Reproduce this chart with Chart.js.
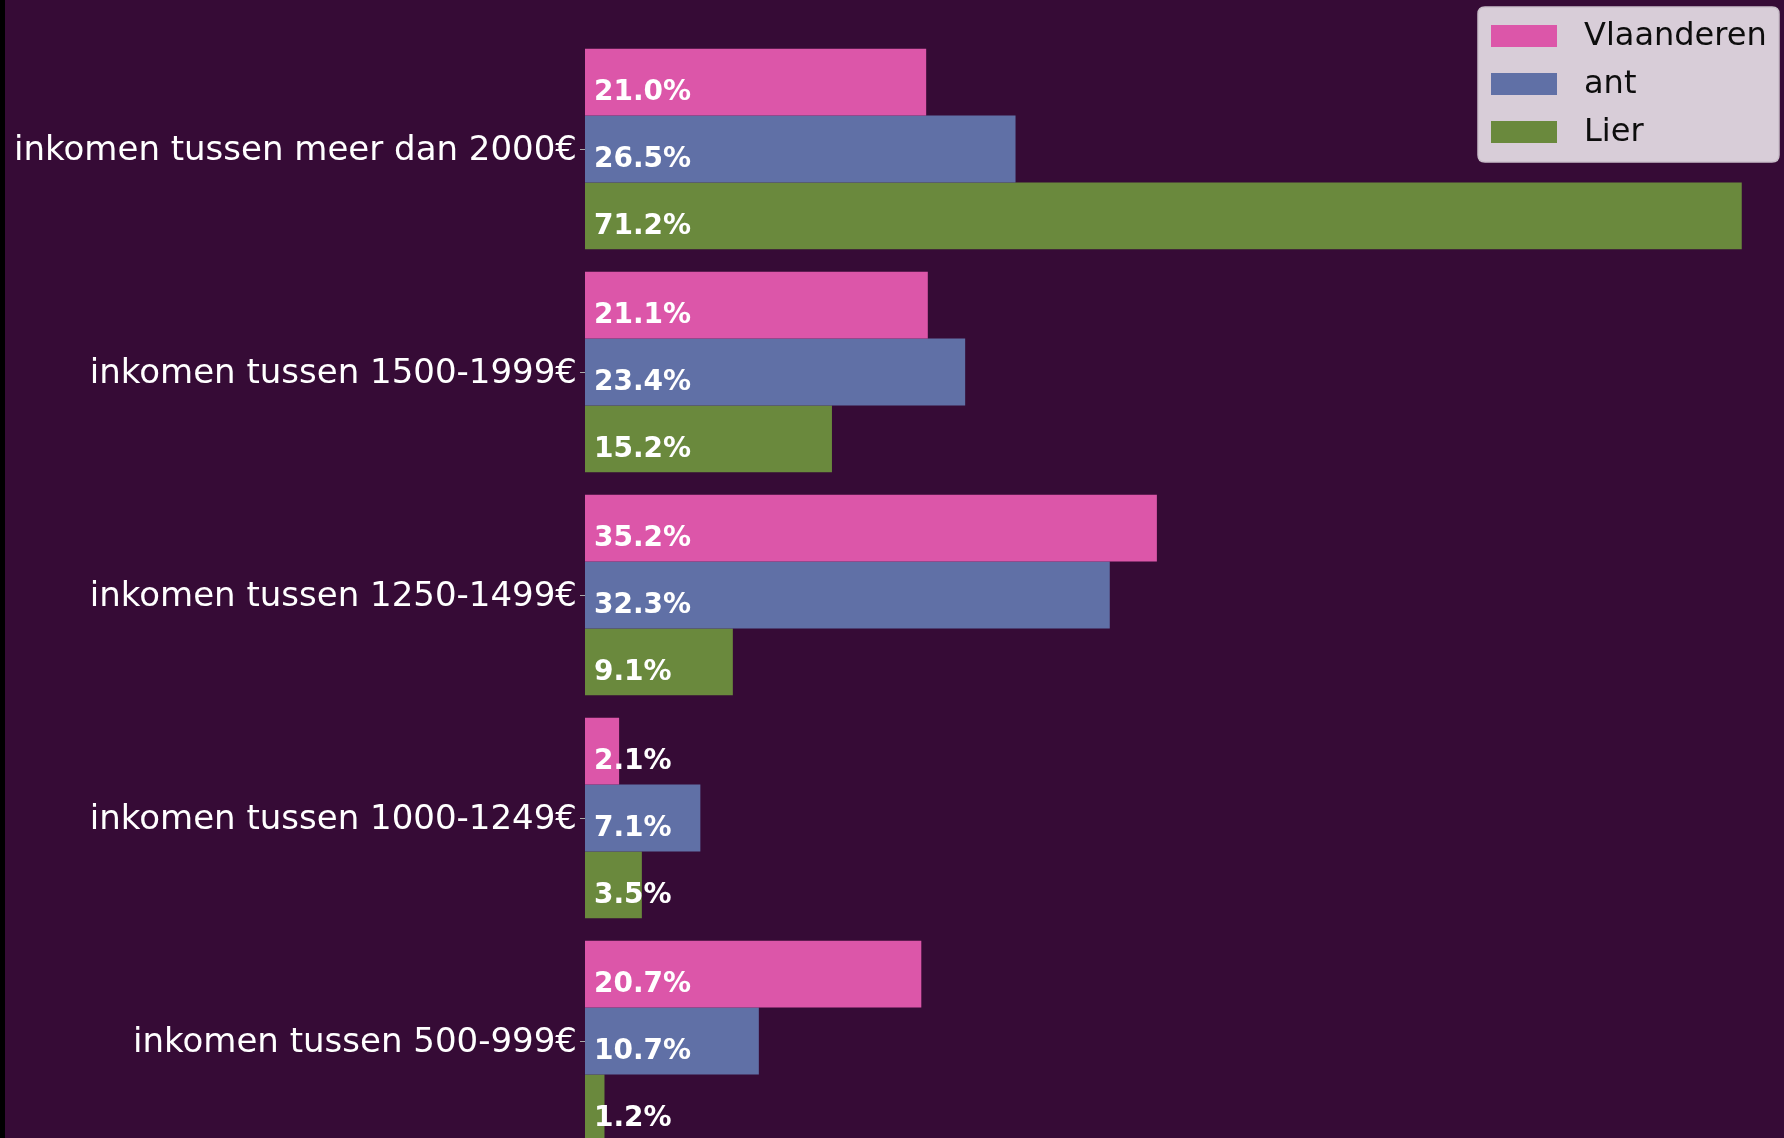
<!DOCTYPE html>
<html>
<head>
<meta charset="utf-8">
<script src="https://cdn.jsdelivr.net/npm/chart.js@4.4.1/dist/chart.umd.min.js"></script>
<style>
  html, body { margin: 0; padding: 0; background: #360b36; overflow: hidden; }
  #wrap { position: absolute; left: 0; top: 0; width: 1784px; height: 1180px; }
  canvas { display: block; }
</style>
</head>
<body>
<div id="wrap"><canvas id="c" width="1784" height="1180"></canvas></div>
<script>
const categories = [
  "inkomen tussen meer dan 2000€",
  "inkomen tussen 1500-1999€",
  "inkomen tussen 1250-1499€",
  "inkomen tussen 1000-1249€",
  "inkomen tussen 500-999€"
];
const seriesNames = ["Vlaanderen", "ant", "Lier"];
const vlaanderen = [21.0, 21.1, 35.2, 2.1, 20.7];
const ant = [26.5, 23.4, 32.3, 7.1, 10.7];
const lier = [71.2, 15.2, 9.1, 3.5, 1.2];
const colors = ["#dc56a9", "#6070a6", "#6a893d"];

const BG = "#360b36";

const bgPlugin = {
  id: "bg",
  beforeDraw(chart) {
    const ctx = chart.ctx;
    ctx.save();
    ctx.fillStyle = BG;
    ctx.fillRect(0, 0, chart.width, chart.height);
    ctx.fillStyle = "#000000";
    ctx.fillRect(0, 0, 5, chart.height);
    ctx.restore();
  }
};

const valueLabels = {
  id: "valueLabels",
  afterDatasetsDraw(chart) {
    const ctx = chart.ctx;
    ctx.save();
    ctx.font = "bold 28px 'DejaVu Sans'";
    ctx.fillStyle = "#ffffff";
    ctx.textAlign = "left";
    ctx.textBaseline = "middle";
    chart.data.datasets.forEach((ds, i) => {
      const meta = chart.getDatasetMeta(i);
      meta.data.forEach((bar, j) => {
        const v = ds.data[j];
        ctx.fillText(v.toFixed(1) + "%", bar.base + 9, bar.y + 11);
      });
    });
    ctx.restore();
  }
};

const boxLegend = {
  id: "boxLegend",
  afterDraw(chart) {
    const ctx = chart.ctx;
    const x0 = 1478, y0 = 7, x1 = 1779, y1 = 162, r = 7;
    ctx.save();
    ctx.beginPath();
    ctx.moveTo(x0 + r, y0);
    ctx.lineTo(x1 - r, y0);
    ctx.quadraticCurveTo(x1, y0, x1, y0 + r);
    ctx.lineTo(x1, y1 - r);
    ctx.quadraticCurveTo(x1, y1, x1 - r, y1);
    ctx.lineTo(x0 + r, y1);
    ctx.quadraticCurveTo(x0, y1, x0, y1 - r);
    ctx.lineTo(x0, y0 + r);
    ctx.quadraticCurveTo(x0, y0, x0 + r, y0);
    ctx.closePath();
    ctx.fillStyle = "#d8cdd8";
    ctx.fill();
    ctx.strokeStyle = "#c9bfc9";
    ctx.lineWidth = 1.5;
    ctx.stroke();
    ctx.font = "32px 'DejaVu Sans'";
    ctx.textBaseline = "middle";
    ctx.textAlign = "left";
    const rows = [36, 84, 132];
    chart.data.datasets.forEach((ds, i) => {
      ctx.fillStyle = ds.backgroundColor;
      ctx.fillRect(1491, rows[i] - 11, 66, 22);
      ctx.fillStyle = "#0d0d0d";
      ctx.fillText(ds.label, 1584, rows[i] + 1);
    });
    ctx.restore();
  }
};

new Chart(document.getElementById("c"), {
  type: "bar",
  data: {
    labels: categories,
    datasets: [
      { label: seriesNames[0], data: vlaanderen, backgroundColor: colors[0] },
      { label: seriesNames[1], data: ant, backgroundColor: colors[1] },
      { label: seriesNames[2], data: lier, backgroundColor: colors[2] }
    ]
  },
  options: {
    indexAxis: "y",
    responsive: false,
    animation: false,
    layout: { autoPadding: false, padding: { left: 0, right: 13, top: 37.5, bottom: 27.5 } },
    datasets: { bar: { categoryPercentage: 0.9, barPercentage: 1.0 } },
    plugins: { legend: { display: false }, tooltip: { enabled: false } },
    scales: {
      x: { display: false, min: 0, max: 73 },
      y: {
        afterFit(scale) { scale.width = 585; },
        border: { display: false },
        grid: {
          offset: false,
          drawOnChartArea: false,
          drawTicks: true,
          tickLength: 5,
          color: "#aaaaaa",
          lineWidth: 1
        },
        ticks: {
          color: "#ffffff",
          padding: 3,
          labelOffset: 2,
          font: { family: "'DejaVu Sans'", size: 34 }
        }
      }
    }
  },
  plugins: [bgPlugin, valueLabels, boxLegend]
});
</script>
</body>
</html>
